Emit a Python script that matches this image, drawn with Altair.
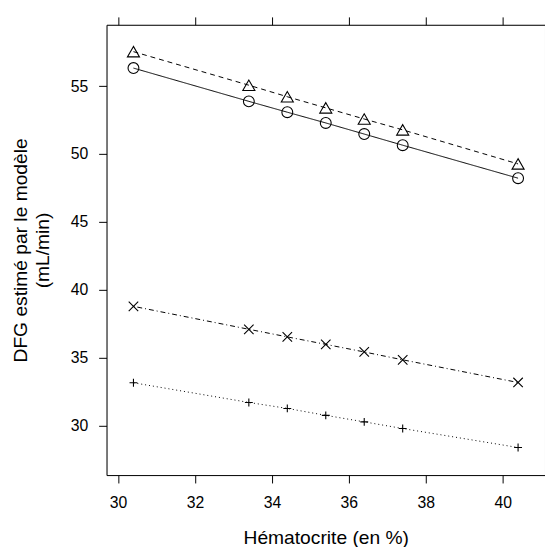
import altair as alt
import pandas as pd

hematocrite = [30.4, 33.4, 34.4, 35.4, 36.4, 37.4, 40.4]
serie_triangle = [57.54, 55.07, 54.22, 53.40, 52.58, 51.78, 49.27]
serie_cercle = [56.33, 53.88, 53.08, 52.29, 51.47, 50.65, 48.22]
serie_croix = [38.78, 37.09, 36.53, 35.98, 35.42, 34.84, 33.17]
serie_plus = [33.15, 31.70, 31.26, 30.75, 30.27, 29.78, 28.38]

series_names = ["triangle", "cercle", "croix", "plus"]
series_vals = [serie_triangle, serie_cercle, serie_croix, serie_plus]

rows = []
for name, vals in zip(series_names, series_vals):
    for xv, yv in zip(hematocrite, vals):
        rows.append({"x": xv, "y": yv, "serie": name})
df = pd.DataFrame(rows)

FONT = "Liberation Sans"
xticks = [30, 32, 34, 36, 38, 40]
yticks = [30, 35, 40, 45, 50, 55]
xscale = alt.Scale(domain=[29.7, 41.1], nice=False, zero=False)
yscale = alt.Scale(domain=[26.35, 59.52], nice=False, zero=False)

common = dict(grid=False, domain=True, domainColor="black", domainWidth=1,
              tickColor="black", tickSize=8, tickWidth=1)

xaxis = alt.Axis(values=xticks, title="Hématocrite (en %)",
                 labelFontSize=16, labelColor="black", labelPadding=12,
                 titleFontSize=19.5, titleFontWeight="normal", titleColor="black",
                 titlePadding=18, labelFont=FONT, titleFont=FONT, **common)
yaxis = alt.Axis(values=yticks,
                 title=["DFG estimé par le modèle", "(mL/min)"],
                 labelFontSize=16, labelColor="black", labelPadding=11,
                 titleFontSize=19.5, titleFontWeight="normal", titleColor="black",
                 titleLineHeight=22, titlePadding=18, labelFont=FONT, titleFont=FONT,
                 **common)

base = alt.Chart(df)

lines = base.mark_line(color="black", strokeWidth=1).encode(
    x=alt.X("x:Q", scale=xscale, axis=xaxis),
    y=alt.Y("y:Q", scale=yscale, axis=yaxis),
    strokeDash=alt.StrokeDash("serie:N",
                              scale=alt.Scale(domain=series_names,
                                              range=[[5, 4], [1, 0], [1, 3, 5, 3], [1, 3]]),
                              legend=None),
    detail="serie:N",
)

X_PATH = "M-1,-1L1,1M-1,1L1,-1"
PLUS_PATH = "M-1,0L1,0M0,-1L0,1"

points = base.mark_point(filled=False, color="black", strokeWidth=1.1, opacity=1).encode(
    x=alt.X("x:Q", scale=xscale, axis=None),
    y=alt.Y("y:Q", scale=yscale, axis=None),
    shape=alt.Shape("serie:N",
                    scale=alt.Scale(domain=series_names,
                                    range=["triangle-up", "circle", X_PATH, PLUS_PATH]),
                    legend=None),
    size=alt.Size("serie:N",
                  scale=alt.Scale(domain=series_names, range=[150, 64, 75, 170]),
                  legend=None),
)

frame = base.mark_point(opacity=0).encode(
    x=alt.X("x:Q", scale=xscale,
            axis=alt.Axis(values=xticks, orient="top", labels=False, title=None, **common)),
    y=alt.Y("y:Q", scale=yscale,
            axis=alt.Axis(values=yticks, orient="right", labels=False, title=None, **common)),
)

chart = alt.layer(lines, points, frame).resolve_axis(
    x="independent", y="independent"
).properties(
    width=445, height=457,
    autosize=alt.AutoSizeParams(type="none"),
    padding={"left": 100, "top": 13, "right": 0, "bottom": 72},
).configure_view(stroke=None).configure(background="white")

chart.save("out.html", embed_options={"renderer": "svg", "actions": False})
